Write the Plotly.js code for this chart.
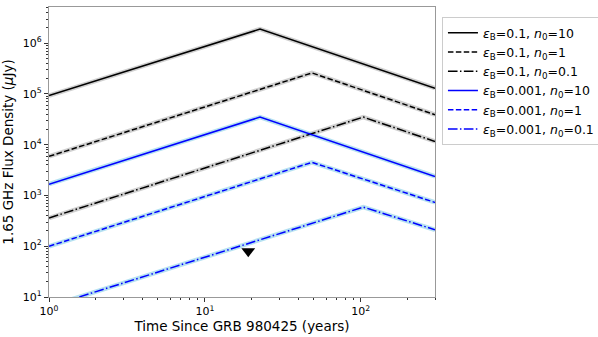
<!DOCTYPE html>
<html>
<head>
<meta charset="utf-8">
<script src="https://cdn.plot.ly/plotly-3.0.1.min.js"></script>
<style>html,body{margin:0;padding:0;background:#fff;}#chart{width:598px;height:337px;}</style>
</head>
<body>
<div id="chart"></div>
<script>
// Time (years) at start, peak, end for each model curve
const tSolid = [1, 22.6, 300];
const tDashed = [1, 48.7, 300];
const tDashDot = [1, 104, 300];

// Flux density (uJy)
const fluxEb01n10 = [9.3e4, 1.9e6, 1.3e5];
const fluxEb01n1 = [5.9e3, 2.6e5, 3.9e4];
const fluxEb01n01 = [360, 3.5e4, 1.16e4];
const fluxEb0001n10 = [1.67e3, 3.5e4, 2.37e3];
const fluxEb0001n1 = [100, 4.5e3, 730];
const fluxEb0001n01 = [6.5, 590, 211];

const seriesNames = [
  '<i>ε</i><sub>B</sub>=0.1, <i>n</i><sub>0</sub>=10',
  '<i>ε</i><sub>B</sub>=0.1, <i>n</i><sub>0</sub>=1',
  '<i>ε</i><sub>B</sub>=0.1, <i>n</i><sub>0</sub>=0.1',
  '<i>ε</i><sub>B</sub>=0.001, <i>n</i><sub>0</sub>=10',
  '<i>ε</i><sub>B</sub>=0.001, <i>n</i><sub>0</sub>=1',
  '<i>ε</i><sub>B</sub>=0.001, <i>n</i><sub>0</sub>=0.1'
];

// Upper limit observation
const limitT = [19];
const limitFlux = [80];

const xTickVals = [1, 10, 100];
const xTickText = ['10<sup>0</sup>', '10<sup>1</sup>', '10<sup>2</sup>'];
const yTickVals = [10, 100, 1e3, 1e4, 1e5, 1e6];
const yTickText = ['10<sup>1</sup>', '10<sup>2</sup>', '10<sup>3</sup>', '10<sup>4</sup>', '10<sup>5</sup>', '10<sup>6</sup>'];

const xMinor = [];
[1, 10, 100].forEach(d => { for (let k = 2; k <= 9; k++) { if (d * k <= 300) xMinor.push(d * k); } });
const yMinor = [];
[10, 100, 1e3, 1e4, 1e5, 1e6].forEach(d => { for (let k = 2; k <= 9; k++) { if (d * k <= 5e6) yMinor.push(d * k); } });

const DASH = '5.5px,2.4px';
const DASHDOT = '9.6px,2.4px,1.5px,2.4px';

const specs = [
  {t: tSolid, f: fluxEb01n10, c: '#000000', halo: 'rgba(150,150,150,0.45)', dash: 'solid'},
  {t: tDashed, f: fluxEb01n1, c: '#000000', halo: 'rgba(150,150,150,0.45)', dash: DASH},
  {t: tDashDot, f: fluxEb01n01, c: '#000000', halo: 'rgba(150,150,150,0.45)', dash: DASHDOT},
  {t: tSolid, f: fluxEb0001n10, c: '#0000ff', halo: 'rgba(120,200,230,0.55)', dash: 'solid'},
  {t: tDashed, f: fluxEb0001n1, c: '#0000ff', halo: 'rgba(120,200,230,0.55)', dash: DASH},
  {t: tDashDot, f: fluxEb0001n01, c: '#0000ff', halo: 'rgba(120,200,230,0.55)', dash: DASHDOT}
];

const traces = [];
specs.forEach((s) => {
  traces.push({x: s.t, y: s.f, mode: 'lines', showlegend: false, hoverinfo: 'skip',
    line: {color: s.halo, width: 4.5}});
});
specs.forEach((s, i) => {
  traces.push({x: s.t, y: s.f, mode: 'lines', name: seriesNames[i],
    line: {color: s.c, width: 1.5, dash: s.dash}});
});
traces.push({x: limitT, y: limitFlux, mode: 'markers', showlegend: false,
  marker: {symbol: 'triangle-down', size: 12, color: '#000'}});

const font = {family: 'DejaVu Sans, sans-serif', color: '#000'};

const layout = {
  width: 598, height: 337,
  margin: {l: 49, r: 163, t: 7, b: 40, pad: 0, autoexpand: false},
  paper_bgcolor: '#fff', plot_bgcolor: '#fff',
  font: Object.assign({size: 11}, font),
  showlegend: true,
  legend: {
    x: 1.018, y: 0.965, xanchor: 'left', yanchor: 'top',
    bordercolor: '#cccccc', borderwidth: 1, bgcolor: '#fff',
    font: Object.assign({size: 12.5}, font),
    tracegroupgap: 0
  },
  xaxis: {
    type: 'log', range: [0, Math.log10(300)],
    tickvals: xTickVals, ticktext: xTickText,
    ticks: 'outside', ticklen: 4, tickwidth: 1, tickcolor: '#333',
    minor: {tickvals: xMinor, ticks: 'outside', ticklen: 2, tickcolor: '#333', showgrid: false},
    showgrid: false, zeroline: false,
    showline: true, linecolor: '#999', linewidth: 1.2, mirror: true,
    tickfont: Object.assign({size: 11}, font),
    title: {text: 'Time Since GRB 980425 (years)', font: Object.assign({size: 13.5}, font), standoff: 4}
  },
  yaxis: {
    type: 'log', range: [1, 6.714],
    tickvals: yTickVals, ticktext: yTickText,
    ticks: 'outside', ticklen: 4, tickwidth: 1, tickcolor: '#333',
    minor: {tickvals: yMinor, ticks: 'outside', ticklen: 2, tickcolor: '#333', showgrid: false},
    showgrid: false, zeroline: false,
    showline: true, linecolor: '#999', linewidth: 1.2, mirror: true,
    tickfont: Object.assign({size: 11}, font),
    title: {text: '1.65 GHz Flux Density (<i>μ</i>Jy)', font: Object.assign({size: 13.5}, font), standoff: 6}
  }
};

Plotly.newPlot('chart', traces, layout, {staticPlot: true, displayModeBar: false});
</script>
</body>
</html>
